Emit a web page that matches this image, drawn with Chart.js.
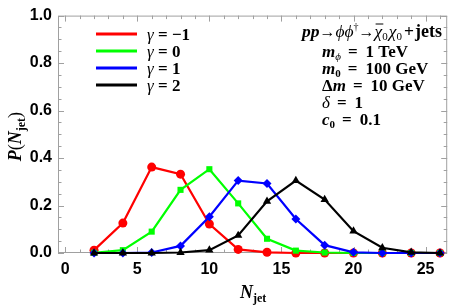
<!DOCTYPE html>
<html>
<head>
<meta charset="utf-8">
<script src="https://cdn.jsdelivr.net/npm/chart.js@4.4.0/dist/chart.umd.min.js"></script>
<style>
  html, body { margin: 0; padding: 0; background: #fff; }
  #wrap { width: 452px; height: 307px; position: relative; }
</style>
</head>
<body>
<div id="wrap"><canvas id="myChart"></canvas></div>
<script>
// === data ===
const nJetValues = [2, 4, 6, 8, 10, 12, 14, 16, 18, 20, 22, 24, 26];
const gammaLabels = ['−1', '0', '1', '2'];
const probGammaM1 = [0.012, 0.126, 0.362, 0.332, 0.122, 0.015, 0.003, 0, 0, 0, 0, 0, 0];
const probGamma0 = [0.001, 0.012, 0.090, 0.266, 0.353, 0.209, 0.060, 0.010, 0.002, 0, 0, 0, 0];
const probGamma1 = [0, 0, 0.002, 0.030, 0.153, 0.305, 0.293, 0.143, 0.033, 0.003, 0, 0, 0];
const probGamma2 = [0, 0, 0, 0.002, 0.012, 0.074, 0.218, 0.305, 0.225, 0.092, 0.022, 0.003, 0];
const xTickValues = [0, 5, 10, 15, 20, 25];
const yTickValues = [0, 0.2, 0.4, 0.6, 0.8, 1.0];

// === styles ===
const seriesStyles = [
    { color: '#ff0000', marker: 'circle', radius: 4.5 },
    { color: '#00ff00', marker: 'rect', radius: 4.3 },
    { color: '#0000ff', marker: 'rectRot', radius: 4.5 },
    { color: '#000000', marker: 'triangle', radius: 4.8 }
];
const FRAME_COLOR = '#a0a0a0';
const SANS = '"Liberation Sans", Arial, sans-serif';
const SERIF = '"Liberation Serif", "Times New Roman", serif';

const allSeries = [probGammaM1, probGamma0, probGamma1, probGamma2];

const datasets = allSeries.map((values, i) => ({
    label: 'γ = ' + gammaLabels[i],
    data: nJetValues.map((n, k) => ({ x: n, y: values[k] })),
    borderColor: seriesStyles[i].color,
    backgroundColor: seriesStyles[i].color,
    borderWidth: 2.2,
    pointStyle: seriesStyles[i].marker,
    pointRadius: seriesStyles[i].radius,
    pointBorderWidth: 0,
    tension: 0,
    clip: false,
    order: 3 - i // later curves on top
}));

/**
 * draw a run of text pieces with different fonts
 */
const drawRich = (ctx, x, y, parts) => {
    let cx = x;
    parts.forEach(p => {
        ctx.font = p.font;
        if (p.skip) { cx += p.skip; }
        ctx.fillText(p.t, cx, y + (p.dy || 0));
        const w = ctx.measureText(p.t).width;
        if (p.bar) {
            ctx.save();
            ctx.lineWidth = 1;
            ctx.beginPath();
            ctx.moveTo(cx + 1, y - 13);
            ctx.lineTo(cx + w + 1, y - 13);
            ctx.stroke();
            ctx.restore();
        }
        cx += w;
    });
};

// frame with inward ticks
const framePlugin = {
    id: 'frame',
    beforeDatasetsDraw(chart) {
        const { ctx, chartArea: a, scales: { x, y } } = chart;
        ctx.save();
        ctx.strokeStyle = FRAME_COLOR;
        ctx.lineWidth = 1;
        ctx.strokeRect(a.left + 0.5, a.top + 0.5, a.right - a.left - 1, a.bottom - a.top - 1);
        ctx.beginPath();
        for (let v = 0; v <= 26; v++) {
            const px = Math.round(x.getPixelForValue(v)) + 0.5;
            const len = v % 5 === 0 ? 6 : 3.5;
            ctx.moveTo(px, a.bottom); ctx.lineTo(px, a.bottom - len);
            ctx.moveTo(px, a.top); ctx.lineTo(px, a.top + len);
        }
        for (let i = 0; i <= 20; i++) {
            const py = Math.round(y.getPixelForValue(i * 0.05)) + 0.5;
            const len = i % 4 === 0 ? 6 : 3.5;
            ctx.moveTo(a.left, py); ctx.lineTo(a.left + len, py);
            ctx.moveTo(a.right, py); ctx.lineTo(a.right - len, py);
        }
        ctx.stroke();
        ctx.restore();
    }
};

// legend, axis titles and the parameter box
const textPlugin = {
    id: 'texts',
    afterDraw(chart) {
        const { ctx, chartArea: a } = chart;
        ctx.save();
        ctx.fillStyle = '#000';
        ctx.strokeStyle = '#000';
        ctx.textBaseline = 'alphabetic';
        ctx.textAlign = 'left';

        // legend
        const legendY = [34, 51, 68, 85];
        datasets.forEach((ds, i) => {
            ctx.save();
            ctx.strokeStyle = ds.borderColor;
            ctx.lineWidth = 3;
            ctx.beginPath();
            ctx.moveTo(96, legendY[i]);
            ctx.lineTo(137, legendY[i]);
            ctx.stroke();
            ctx.restore();
            drawRich(ctx, 147, legendY[i] + 6, [
                { t: 'γ', font: `italic 17px ${SERIF}` },
                { t: ' = ' + gammaLabels[i], font: `bold 17px ${SERIF}` }
            ]);
        });

        // process line
        const pbi = `italic bold 17.5px ${SERIF}`;
        const pit = `italic 17.5px ${SERIF}`;
        drawRich(ctx, 302, 37, [
            { t: 'pp', font: pbi },
            { t: '→', font: `16px ${SERIF}` },
            { t: 'ϕϕ', font: pit },
            { t: '†', font: `10px ${SERIF}`, dy: -7 },
            { t: '→', font: `16px ${SERIF}` },
            { t: 'χ', font: pit, bar: true },
            { t: '0', font: `11px ${SERIF}`, dy: 3 },
            { t: 'χ', font: pit, skip: 1 },
            { t: '0', font: `11px ${SERIF}`, dy: 3 },
            { t: '+', font: `bold 17.5px ${SERIF}`, skip: 2 },
            { t: 'jets', font: `bold 18px ${SERIF}`, skip: 1 }
        ]);

        // parameters
        const bi = `italic bold 17px ${SERIF}`;
        const b = `bold 17px ${SERIF}`;
        const it = `italic 17px ${SERIF}`;
        const sub = `bold 11px ${SERIF}`;
        const subIt = `italic 11px ${SERIF}`;
        const px = 322;
        drawRich(ctx, px, 57, [
            { t: 'm', font: bi }, { t: 'ϕ', font: subIt, dy: 3 },
            { t: '=', font: b, skip: 7 }, { t: '1 TeV', font: b, skip: 8 }
        ]);
        drawRich(ctx, px, 74, [
            { t: 'm', font: bi }, { t: '0', font: sub, dy: 3 },
            { t: '=', font: b, skip: 7 }, { t: '100 GeV', font: b, skip: 8 }
        ]);
        drawRich(ctx, px, 91, [
            { t: 'Δ', font: b }, { t: 'm', font: bi },
            { t: '=', font: b, skip: 7 }, { t: '10 GeV', font: b, skip: 8 }
        ]);
        drawRich(ctx, px, 108, [
            { t: 'δ', font: it },
            { t: '=', font: b, skip: 7 }, { t: '1', font: b, skip: 8 }
        ]);
        drawRich(ctx, px, 124.5, [
            { t: 'c', font: bi }, { t: '0', font: sub, dy: 3 },
            { t: '=', font: b, skip: 7 }, { t: '0.1', font: b, skip: 8 }
        ]);

        // x title
        drawRich(ctx, 240, 298, [
            { t: 'N', font: `italic bold 18px ${SERIF}` },
            { t: 'jet', font: `bold 12px ${SERIF}`, dy: 4 }
        ]);

        // y title (rotated)
        ctx.save();
        ctx.translate(21, (a.top + a.bottom) / 2 + 27);
        ctx.rotate(-Math.PI / 2);
        drawRich(ctx, 0, 0, [
            { t: 'P', font: `italic bold 18px ${SERIF}` },
            { t: '(', font: `18px ${SERIF}` },
            { t: 'N', font: `italic bold 18px ${SERIF}` },
            { t: 'jet', font: `bold 12px ${SERIF}`, dy: 4 },
            { t: ')', font: `18px ${SERIF}` }
        ]);
        ctx.restore();

        ctx.restore();
    }
};

const ctx = document.getElementById('myChart').getContext('2d');
const myChart = new Chart(ctx, {
    type: 'line',
    data: { datasets },
    options: {
        responsive: true,
        maintainAspectRatio: false,
        animation: false,
        layout: { padding: { top: 10, right: 1, left: 0, bottom: 0 } },
        plugins: {
            legend: { display: false },
            tooltip: { enabled: false }
        },
        scales: {
            x: {
                type: 'linear',
                min: -0.5,
                max: 26.5,
                afterBuildTicks: (s) => { s.ticks = xTickValues.map(v => ({ value: v })); },
                afterFit: (s) => { s.height = 54; },
                ticks: {
                    color: '#000',
                    padding: 7,
                    maxRotation: 0,
                    font: { family: SANS, size: 16, weight: 'bold' }
                },
                grid: { display: false, drawTicks: false },
                border: { display: false }
            },
            y: {
                type: 'linear',
                min: 0,
                max: 1,
                afterBuildTicks: (s) => { s.ticks = yTickValues.map(v => ({ value: v })); },
                afterFit: (s) => { s.width = 58; },
                ticks: {
                    color: '#000',
                    padding: 6,
                    callback: (v) => v.toFixed(1),
                    font: { family: SANS, size: 16, weight: 'bold' }
                },
                grid: { display: false, drawTicks: false },
                border: { display: false }
            }
        }
    },
    plugins: [framePlugin, textPlugin]
});
</script>
</body>
</html>
